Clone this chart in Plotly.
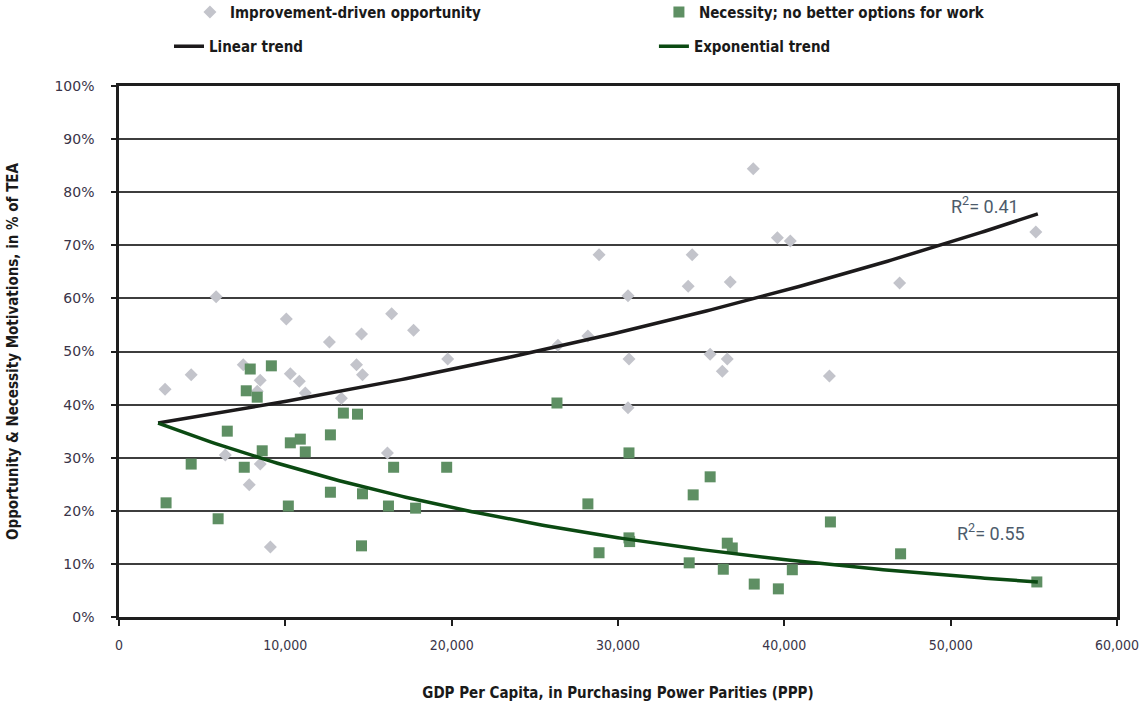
import numpy as np
import plotly.graph_objects as go

# Improvement-driven opportunity (GDP per capita PPP, % of TEA)
opp_gdp = [2770, 4340, 5840, 6390, 7470, 7830, 8310, 8490, 8490, 9100,
           10060, 10300, 10840, 11200, 12650, 13370, 14280, 14580, 14640, 16140,
           16390, 17710, 19760, 26390, 28190, 28860, 30600, 30660, 30600, 34220,
           34460, 35540, 36270, 36570, 36750, 38130, 39580, 40360, 42710, 46930,
           55120]
opp_pct = [42.9, 45.6, 60.3, 30.5, 47.5, 24.9, 42.5, 44.6, 28.8, 13.2,
           56.1, 45.8, 44.4, 42.2, 51.8, 41.2, 47.5, 53.3, 45.6, 30.9,
           57.1, 54.0, 48.6, 51.2, 52.9, 68.2, 60.5, 48.6, 39.4, 62.3,
           68.2, 49.5, 46.3, 48.6, 63.1, 84.4, 71.4, 70.8, 45.4, 62.9,
           72.5]

# Necessity; no better options for work
nec_gdp = [2830, 4340, 5960, 6510, 7890, 7650, 8310, 9160, 7530, 8610,
           10180, 10300, 10900, 11200, 13490, 14340, 12710, 16510, 19700, 12710,
           14640, 16200, 17830, 14580, 26330, 30660, 28190, 34520, 35540, 42770,
           28860, 30660, 30700, 34280, 36330, 36570, 36870, 38190, 39640, 40480,
           46990, 55180]
nec_pct = [21.5, 28.8, 18.5, 35.0, 46.7, 42.6, 41.4, 47.3, 28.2, 31.3,
           20.9, 32.8, 33.5, 31.1, 38.4, 38.2, 34.3, 28.2, 28.2, 23.5,
           23.2, 20.9, 20.5, 13.4, 40.3, 30.9, 21.3, 23.0, 26.4, 17.9,
           12.1, 14.9, 14.2, 10.2, 9.0, 13.9, 13.0, 6.2, 5.3, 8.9,
           11.9, 6.6]

# Trendline coefficients: y = a * exp(b * x)
up_a, up_b = 35.35, 1.384e-5
down_a, down_b = 39.4, -3.234e-5
trend_x_min, trend_x_max = 2350, 55240
r2_up, r2_down = 0.41, 0.55

x_ticks = [0, 10000, 20000, 30000, 40000, 50000, 60000]
y_ticks = [0, 10, 20, 30, 40, 50, 60, 70, 80, 90, 100]
y_tick_text = [f"{v}%" for v in y_ticks]

trend_x = np.linspace(trend_x_min, trend_x_max, 200)
up_y = up_a * np.exp(up_b * trend_x)
down_y = down_a * np.exp(down_b * trend_x)

BOLD = "Liberation Sans Narrow, Arial Narrow, DejaVu Sans Condensed, sans-serif"
NARROW = "Arial Narrow, DejaVu Sans Condensed, sans-serif"
legend_font = dict(family=BOLD, size=15, color="#1a1a1a")
r2_font = dict(family="Roboto, sans-serif", size=18, color="#4d5b6b")

fig = go.Figure()
fig.add_trace(go.Scatter(
    x=opp_gdp, y=opp_pct, mode="markers",
    name="<b>Improvement-driven opportunity</b>",
    marker=dict(symbol="diamond", size=10, color="#c3c4cb", line=dict(width=0)),
    legend="legend"))
fig.add_trace(go.Scatter(
    x=nec_gdp, y=nec_pct, mode="markers",
    name="<b>Necessity; no better options for work</b>",
    marker=dict(symbol="square", size=11, color="#5e8f63", line=dict(width=0)),
    legend="legend2"))
fig.add_trace(go.Scatter(
    x=trend_x, y=up_y, mode="lines", name="<b>Linear trend</b>",
    line=dict(color="#1c1a1b", width=3.5), legend="legend3"))
fig.add_trace(go.Scatter(
    x=trend_x, y=down_y, mode="lines", name="<b>Exponential trend</b>",
    line=dict(color="#0b4a12", width=3.5), legend="legend4"))

fig.add_annotation(x=52060, y=77.6, text=f"R<sup>2</sup>= {r2_up:.2f}",
                   showarrow=False, font=r2_font)
fig.add_annotation(x=52420, y=16.0, text=f"R<sup>2</sup>= {r2_down:.2f}",
                   showarrow=False, font=r2_font)


def legend_box(x, y):
    return dict(orientation="h", x=x, xanchor="left", y=y, yanchor="top",
                font=legend_font, bgcolor="rgba(0,0,0,0)")


fig.update_layout(
    width=1142, height=704,
    margin=dict(l=119, r=25, t=86, b=87, autoexpand=False),
    paper_bgcolor="white", plot_bgcolor="white",
    showlegend=True,
    legend=legend_box(0.0711, 1.17),
    legend2=legend_box(0.541, 1.17),
    legend3=legend_box(0.0501, 1.1055),
    legend4=legend_box(0.536, 1.1055),
    xaxis=dict(range=[0, 60000], tickvals=x_ticks, tickformat=",", automargin=False,
               showgrid=False, zeroline=False,
               showline=True, linecolor="#1e1e1e", linewidth=2.5, mirror=True,
               ticks="outside", ticklen=6, tickwidth=1.5, tickcolor="#1e1e1e",
               ticklabelstandoff=7,
               tickfont=dict(family=NARROW, size=14, color="#3a3448"),
               title=dict(text="<b>GDP Per Capita, in Purchasing Power Parities (PPP)</b>",
                          font=dict(family=BOLD, size=15, color="#1a1a1a"), standoff=36)),
    yaxis=dict(range=[0, 100], tickvals=y_ticks, ticktext=y_tick_text, automargin=False,
               showgrid=True, gridcolor="#3e3e3e", gridwidth=1.5, zeroline=False,
               showline=True, linecolor="#1e1e1e", linewidth=2.5, mirror=True,
               ticks="outside", ticklen=5, tickwidth=1.5, tickcolor="#1e1e1e",
               ticklabelstandoff=14,
               tickfont=dict(family="DejaVu Sans, Verdana, sans-serif", size=14, color="#3a3448"),
               title=dict(text="<b>Opportunity & Necessity Motivations, in % of TEA</b>",
                          font=dict(family=BOLD, size=15, color="#1a1a1a"), standoff=33)),
)

fig.write_html("out.html")
